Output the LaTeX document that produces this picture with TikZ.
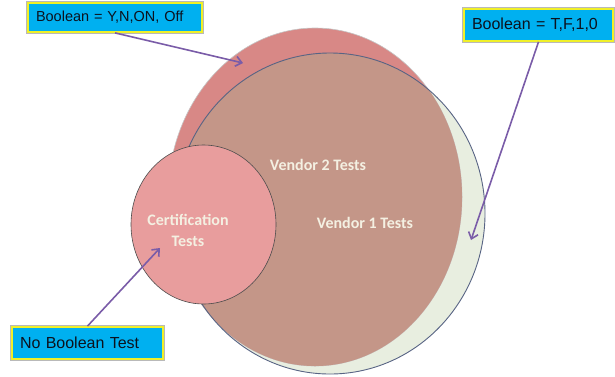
\documentclass[tikz,border=0pt]{standalone}
\usepackage{fontspec}
\setmainfont{Liberation Sans}
\newfontfamily\calib{Carlito}
\usetikzlibrary{arrows.meta}
\definecolor{pinkband}{RGB}{216,136,134}
\definecolor{brownfill}{RGB}{196,150,136}
\definecolor{palegreen}{RGB}{232,238,224}
\definecolor{certpink}{RGB}{232,157,157}
\definecolor{slateline}{RGB}{88,100,132}
\definecolor{arrowpurple}{RGB}{122,92,168}
\definecolor{boxcyan}{RGB}{0,176,240}
\definecolor{boxyellow}{RGB}{240,240,40}
\definecolor{boxtext}{RGB}{12,18,30}
\definecolor{creamtext}{RGB}{244,240,226}
\tikzset{
  labelbox/.style={fill=boxcyan, draw=boxyellow, line width=1.8pt,
    preaction={draw=gray!55, line width=3.2pt},
    inner xsep=8pt, inner ysep=0pt, align=left, text=boxtext,
    anchor=center},
  arr/.style={draw=arrowpurple, line width=1.6pt,
    -{Straight Barb[length=6pt,width=10pt]}},
  venntext/.style={text=creamtext, font=\calib\bfseries\fontsize{16}{19}\selectfont, align=center},
}
\begin{document}
\begin{tikzpicture}[x=1pt,y=-1pt]
\useasboundingbox (0,0) rectangle (615,376);
% Vendor 1 (large pale circle)
\coordinate (v1c) at (330,213.5);
\coordinate (v2c) at (315,197);
\coordinate (cc) at (203.5,224.5);
\fill[palegreen] (v1c) ellipse [x radius=155pt, y radius=160.5pt];
% Vendor 2 (pink)
\fill[pinkband] (v2c) ellipse [x radius=147pt, y radius=169pt];
\draw[gray!45, line width=0.6pt] (v2c) ellipse [x radius=147pt, y radius=169pt];
\begin{scope}
  \clip (v2c) ellipse [x radius=147pt, y radius=169pt];
  \fill[brownfill] (v1c) ellipse [x radius=155pt, y radius=160.5pt];
\end{scope}
\draw[slateline, line width=0.9pt] (v1c) ellipse [x radius=155pt, y radius=160.5pt];
% Certification circle
\fill[certpink, draw=gray!60!black, line width=0.6pt] (cc) ellipse [x radius=72.5pt, y radius=79.5pt];
% texts
\node[venntext] (t2) at (318,165) {Vendor 2 Tests};
\node[venntext] (t1) at (365,223) {Vendor 1 Tests};
\node[venntext, font=\calib\bfseries\fontsize{16}{21}\selectfont] (tc) at (188,230) {Certification\\Tests};
% boxes
\node[labelbox, text width=158pt, minimum height=29pt, font=\fontsize{14.5}{17}\selectfont] (b1) at (115,17.5) {Boolean = Y,N,ON, Off};
\node[labelbox, text width=133pt, minimum height=32pt, font=\fontsize{16}{19}\selectfont] (b2) at (538.5,25) {Boolean = T,F,1,0};
\node[labelbox, text width=135pt, minimum height=32pt, font=\fontsize{16}{19}\selectfont] (b3) at (87.5,343) {No Boolean Test};
% arrow ends
\coordinate (e1) at (243,63);
\coordinate (e2) at (471,240);
\coordinate (e3) at (160,248);
\draw[arr] (b1.south) -- (e1);
\draw[arr] (b2.south) -- (e2);
\draw[arr] (b3.north) -- (e3);
\end{tikzpicture}
\end{document}
